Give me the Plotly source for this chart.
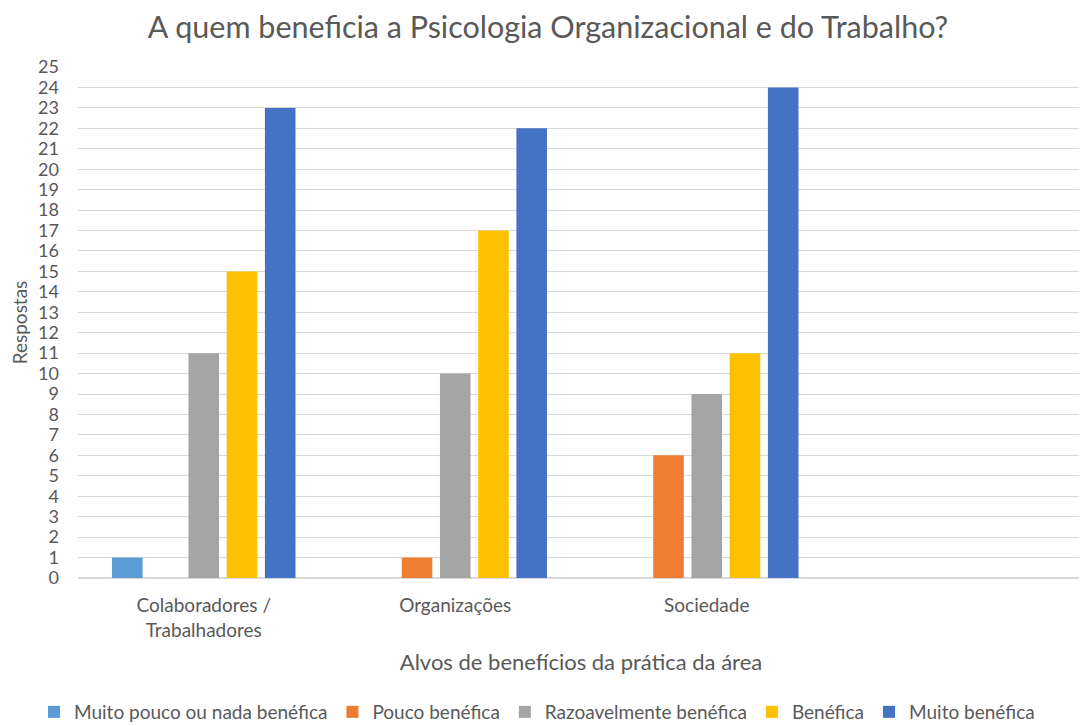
import plotly.graph_objects as go

categories = ["Colaboradores /<br>Trabalhadores", "Organizações", "Sociedade", " "]
series_names = ["Muito pouco ou nada benéfica", "Pouco benéfica", "Razoavelmente benéfica", "Benéfica", "Muito benéfica"]
muito_pouco = [1, 0, 0, None]
pouco = [0, 1, 6, None]
razoavel = [11, 10, 9, None]
benefica = [15, 17, 11, None]
muito = [23, 22, 24, None]
colors = ["#5B9BD5", "#ED7D31", "#A5A5A5", "#FFC000", "#4472C4"]
y_ticks = list(range(0, 26))

values = [muito_pouco, pouco, razoavel, benefica, muito]
FONT = "Lato"
GREY = "#595959"
W, H = 1079, 718  # page has an 8px body margin
L, R, T, B = 70, 3, 59, 148
PW, PH = W - L - R, H - T - B

fig = go.Figure()
for name, vals, col in zip(series_names, values, colors):
    fig.add_trace(go.Bar(name=name, x=categories, y=vals, marker_color=col,
                         marker_line_width=0))

fig.update_layout(
    width=W, height=H,
    margin=dict(l=L, r=R, t=T, b=B, autoexpand=False),
    paper_bgcolor="white", plot_bgcolor="white",
    font=dict(family=FONT, color=GREY),
    barmode="group", bargap=0.24, bargroupgap=0.2,
    title=dict(text="A quem beneficia a Psicologia Organizacional e do Trabalho?",
               xref="container", x=540 / W, xanchor="center",
               yref="container", y=1 - 19 / H, yanchor="middle",
               font=dict(size=30.5, color=GREY, family=FONT)),
    legend=dict(orientation="h", xref="paper", x=(26 - L) / PW, xanchor="left",
                yref="paper", y=-(704 - (T + PH)) / PH, yanchor="middle",
                font=dict(size=19, color=GREY, family=FONT), traceorder="normal",
                itemwidth=30, tracegroupgap=0),
    showlegend=True,
)
fig.update_xaxes(type="category", categoryorder="array", categoryarray=categories,
                 automargin=False,
                 showgrid=False, showline=True, linecolor="#D9D9D9", linewidth=1,
                 ticks="", tickfont=dict(size=19, color=GREY), ticklabelstandoff=10,
                 title=dict(text="Alvos de benefícios da prática da área", standoff=15,
                            font=dict(size=22, color=GREY)))
fig.update_yaxes(range=[0, 25], tickmode="array", tickvals=y_ticks, automargin=False,
                 showgrid=True, gridcolor="#D9D9D9", gridwidth=1,
                 zeroline=True, zerolinecolor="#D9D9D9", ticks="",
                 tickfont=dict(size=18, color=GREY), ticklabelstandoff=18,
                 title=dict(text="Respostas", standoff=5, font=dict(size=19, color=GREY)))

fig.write_html("out.html")
